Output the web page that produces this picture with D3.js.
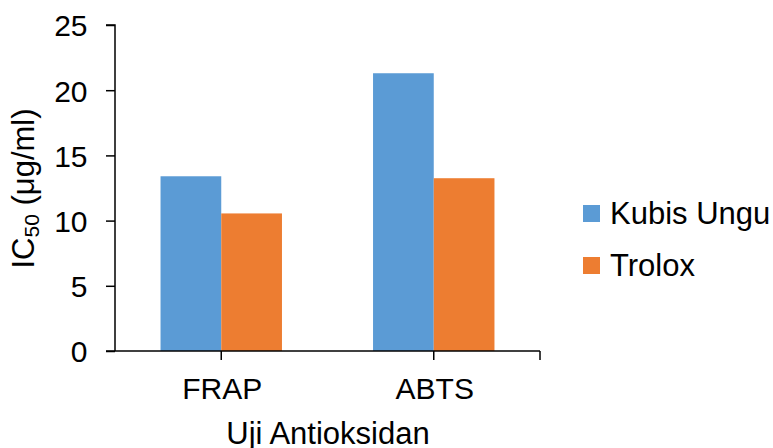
<!DOCTYPE html>
<html><head><meta charset="utf-8">
<script src="https://cdn.jsdelivr.net/npm/d3@7"></script>
<style>body{margin:0;background:#fff}svg{display:block}text{font-family:"Liberation Sans",Arial,sans-serif;fill:#000}</style>
</head><body><svg id="c" width="773" height="448"></svg>
<script>
const categories = ["FRAP", "ABTS"];
const seriesNames = ["Kubis Ungu", "Trolox"];
const kubisUngu = [13.4, 21.3];
const trolox = [10.55, 13.25];
const yTicks = [0, 5, 10, 15, 20, 25];
const colors = ["#5B9BD5", "#ED7D31"];

const svg = d3.select("#c");
const FS = 30;
const x0 = 115, x1 = 540, yTop = 25, yBot = 351;
const x = d3.scaleBand().domain(categories).range([x0, x1]).paddingInner(0).paddingOuter(0);
const y = d3.scaleLinear().domain([0, 25]).range([yBot, yTop]);
const sub = d3.scaleBand().domain(seriesNames).range([0, x.bandwidth()]).paddingOuter(0.75).paddingInner(0);
// bars
const data = categories.map((c, i) => ({c, vals: [kubisUngu[i], trolox[i]]}));
const g = svg.append("g");
data.forEach(d => {
  d.vals.forEach((v, j) => {
    g.append("rect")
      .attr("x", x(d.c) + sub(seriesNames[j]))
      .attr("y", y(v))
      .attr("width", sub.bandwidth())
      .attr("height", y(0) - y(v))
      .attr("fill", colors[j]);
  });
});
// y axis
const ya = svg.append("g").attr("transform", `translate(${x0},0)`)
  .call(d3.axisLeft(y).tickValues(yTicks).tickSize(9).tickPadding(18.5).tickFormat(d3.format("d")));
ya.attr("font-size", null).attr("font-family", null);
ya.select(".domain").attr("stroke", "#000").attr("stroke-width", 1.5).attr("d", `M-9,${yTop}H0V${yBot}`);
ya.selectAll(".tick line").attr("stroke", "#000").attr("stroke-width", 1.5);
ya.selectAll(".tick text").attr("font-size", FS).style("font-size", FS + "px").attr("dy", "0.36em").attr("fill", "#000");
// x axis
const xa = svg.append("g").attr("transform", `translate(0,${yBot})`);
xa.append("line").attr("x1", x0 - 9).attr("x2", x1).attr("y1", 0).attr("y2", 0).attr("stroke", "#000").attr("stroke-width", 1.5);
const tickXs = categories.map(c => x(c) + x.bandwidth() / 2).concat([x1]);
tickXs.forEach(t => xa.append("line").attr("x1", t).attr("x2", t).attr("y1", 0).attr("y2", 9).attr("stroke", "#000").attr("stroke-width", 1.5));
categories.forEach(c => xa.append("text").attr("x", x(c) + x.bandwidth() / 2 + 1).attr("y", 48)
  .attr("text-anchor", "middle").style("font-size", FS + "px").text(c));
// axis titles
svg.append("text").attr("x", 328).attr("y", 444).attr("text-anchor", "middle")
  .style("font-size", "31px").text("Uji Antioksidan");
const yt = svg.append("text").attr("transform", `translate(33.5,188.5) rotate(-90)`)
  .attr("text-anchor", "middle").style("font-size", "31px");
yt.append("tspan").text("IC");
yt.append("tspan").attr("dy", 5).style("font-size", "21px").text("50");
yt.append("tspan").attr("dy", -5).text(" (μg/ml)");
// legend
const lg = svg.append("g").attr("transform", "translate(583,205)");
seriesNames.forEach((s, i) => {
  const r = lg.append("g").attr("transform", `translate(0,${i * 52})`);
  r.append("rect").attr("width", 17).attr("height", 17).attr("fill", colors[i]);
  r.append("text").attr("x", 27).attr("y", 18.5).style("font-size", "31px").text(s);
});
</script></body></html>
